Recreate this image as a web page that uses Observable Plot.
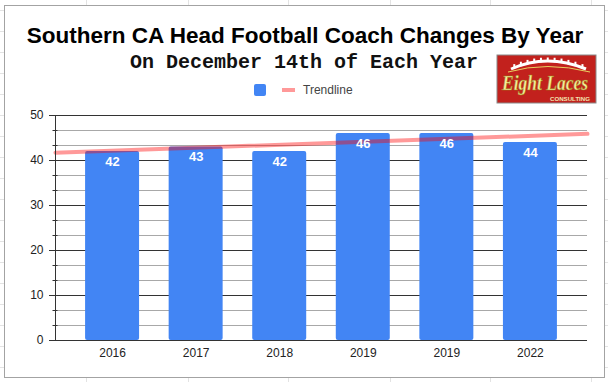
<!DOCTYPE html>
<html>
<head>
<meta charset="utf-8">
<script src="https://cdn.jsdelivr.net/npm/d3@7"></script>
<script src="https://cdn.jsdelivr.net/npm/@observablehq/plot@0.6"></script>
<style>
  html, body { margin: 0; padding: 0; background: #fff; }
  #root { position: relative; width: 608px; height: 382px; overflow: hidden; font-family: Arial, "Liberation Sans", sans-serif; }
  #root > svg, #root > div { position: absolute; left: 0; top: 0; }
  #card { left: 4px !important; top: 5px !important; width: 601px; height: 373px; box-sizing: border-box; border: 1px solid #a3a3a3; background: #fff; }
</style>
</head>
<body>
<div id="root">
  <svg id="sheet" width="608" height="382"></svg>
  <div id="card"></div>
  <svg id="overlay" width="608" height="382" xmlns="http://www.w3.org/2000/svg">
    <text x="305" y="43" text-anchor="middle" font-family="Arial, 'Liberation Sans', sans-serif" font-weight="bold" font-size="22.5" fill="#000">Southern CA Head Football Coach Changes By Year</text>
    <text x="304" y="68" text-anchor="middle" font-family="'Courier New', 'Liberation Mono', monospace" font-weight="bold" font-size="20" fill="#111">On December 14th of Each Year</text>
    <rect x="254" y="84" width="12" height="12" rx="2" fill="#4285F4"/>
    <line x1="282" x2="295" y1="90" y2="90" stroke="#ff0000" stroke-opacity="0.4" stroke-width="4"/>
    <text x="303" y="94" font-family="Arial, 'Liberation Sans', sans-serif" font-size="12" fill="#444">Trendline</text>
    <g id="logo">
      <rect x="497" y="55" width="99" height="48" fill="#c2211d" stroke="#8a8a8a" stroke-width="1"/>
      <path d="M511 69 Q547 53 586 69" fill="none" stroke="#fff" stroke-width="3"/>
      <path d="M508 72 Q547 61 590 72" fill="none" stroke="#e8d060" stroke-width="1"/>
      <g id="stitches" stroke="#fff" stroke-width="2"></g>
      <text x="502" y="90" font-family="'Liberation Serif', 'DejaVu Serif', serif" font-style="italic" font-weight="bold" font-size="21" fill="#f6ef9e" stroke="#9a7a10" stroke-width="0.5" textLength="86" lengthAdjust="spacingAndGlyphs">Eight Laces</text>
      <text x="550" y="100.5" font-family="Arial, 'Liberation Sans', sans-serif" font-weight="bold" font-size="5" fill="#f3e3b0" textLength="40" lengthAdjust="spacingAndGlyphs">CONSULTING</text>
    </g>
  </svg>
</div>
<script>
// ---- data ----
const years = ["2016", "2017", "2018", "2019", "2019", "2022"];
const values = [42, 43, 42, 46, 46, 44];
const yTicks = [0, 10, 20, 30, 40, 50];

const rows = years.map((yr, k) => ({i: k + 1, year: yr, value: values[k]}));

// background spreadsheet grid (decoration)
(function () {
  const s = d3.select("#sheet");
  [86, 188, 288, 390, 490, 591].forEach(x => s.append("line").attr("x1", x + 0.5).attr("x2", x + 0.5).attr("y1", 0).attr("y2", 382).attr("stroke", "#e3e3e3"));
  for (let y = 10; y < 382; y += 21) s.append("line").attr("x1", 0).attr("x2", 608).attr("y1", y + 0.5).attr("y2", y + 0.5).attr("stroke", "#e3e3e3");
  const st = d3.select("#stitches");
  for (let k = 0; k < 11; k++) {
    const t = (k + 0.5) / 11;
    const x = (1 - t) * (1 - t) * 511 + 2 * t * (1 - t) * 547 + t * t * 586;
    const y = (1 - t) * (1 - t) * 69 + 2 * t * (1 - t) * 53 + t * t * 69;
    st.append("line").attr("x1", x).attr("x2", x).attr("y1", y - 3.5).attr("y2", y + 1);
  }
})();

// linear trendline (least squares over category index)
const mx = d3.mean(rows, d => d.i), my = d3.mean(rows, d => d.value);
const slope = d3.sum(rows, d => (d.i - mx) * (d.value - my)) / d3.sum(rows, d => (d.i - mx) ** 2);
const intercept = my - slope * mx;

const xDomain = [0.317, 6.683];
const trend = xDomain.map(x => ({x, y: intercept + slope * x}));
const half = 0.323;
const minorTicks = d3.range(0, 50, 10 / 3).filter(v => Math.abs(v / 10 - Math.round(v / 10)) > 1e-6);

const chart = Plot.plot({
  width: 608,
  height: 382,
  marginLeft: 55,
  marginRight: 21,
  marginTop: 115,
  marginBottom: 42,
  style: {background: "transparent", fontFamily: "Arial, 'Liberation Sans', sans-serif", fontSize: "12px", color: "#222", overflow: "visible"},
  x: {type: "linear", domain: xDomain},
  y: {domain: [0, 50]},
  marks: [
    Plot.ruleY(minorTicks, {stroke: "#a8a8a8", strokeWidth: 1}),
    Plot.ruleY(yTicks.filter(v => v > 0), {stroke: "#333", strokeWidth: 1}),
    Plot.axisY(minorTicks, {tickSize: 5, dx: 2.5, tickFormat: () => "", stroke: "#333"}),
    Plot.axisY(yTicks, {tickSize: 6, tickPadding: 6, fontSize: 12, stroke: "#333", label: null}),
    Plot.rectY(rows, {x1: d => d.i - half, x2: d => d.i + half, y: "value", fill: "#4285F4", rx: 2}),
    Plot.line(trend, {x: "x", y: "y", stroke: "#ff0000", strokeOpacity: 0.4, strokeWidth: 4}),
    Plot.text(rows, {x: "i", y: "value", text: d => String(d.value), dy: 10, fill: "#fff", fontWeight: "bold", fontSize: 13}),
    Plot.ruleY([0], {stroke: "#333", strokeWidth: 1}),
    Plot.ruleX([xDomain[0]], {y1: 0, y2: 50, stroke: "#333", strokeWidth: 1}),
    Plot.axisX(rows.map(d => d.i), {tickSize: 0, tickPadding: 8, tickFormat: i => years[i - 1], fontSize: 12, label: null})
  ]
});
chart.style.position = "absolute";
chart.style.left = "0px";
chart.style.top = "0px";
const root = document.getElementById("root");
root.insertBefore(chart, document.getElementById("overlay"));
</script>
</body>
</html>
